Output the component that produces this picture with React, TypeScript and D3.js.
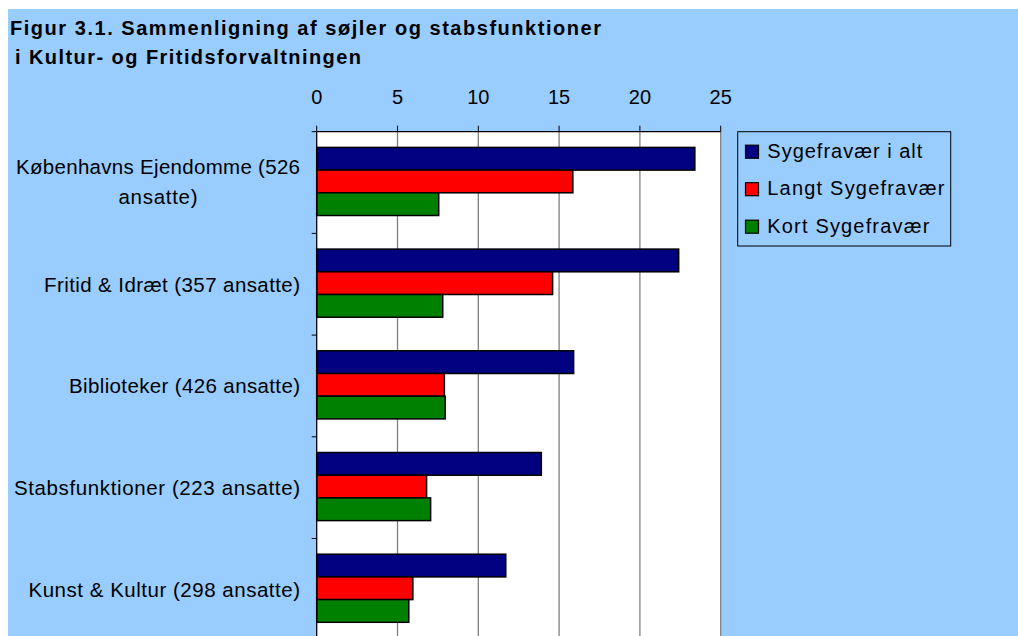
import React from 'react';
import * as d3 from 'd3';

const categories = [
  'Københavns Ejendomme (526 ansatte)',
  'Fritid & Idræt (357 ansatte)',
  'Biblioteker (426 ansatte)',
  'Stabsfunktioner (223 ansatte)',
  'Kunst & Kultur (298 ansatte)',
];
// label lines as drawn (first label wraps), with the width each line takes in the picture
const categoryLines = [
  ['Københavns Ejendomme (526', 'ansatte)'],
  ['Fritid & Idræt (357 ansatte)'],
  ['Biblioteker (426 ansatte)'],
  ['Stabsfunktioner (223 ansatte)'],
  ['Kunst & Kultur (298 ansatte)'],
];
const categoryLineWidths = [[284, 79], [256], [231], [286], [271.5]];
const seriesNames = ['Sygefravær i alt', 'Langt Sygefravær', 'Kort Sygefravær'];
const seriesNameWidths = [155, 177, 162];
const seriesColors = ['#000080', '#FF0000', '#008000'];
const sygefravaerIAlt = [23.4, 22.4, 15.9, 13.9, 11.7];
const langtSygefravaer = [15.85, 14.6, 7.9, 6.8, 5.95];
const kortSygefravaer = [7.55, 7.8, 7.95, 7.05, 5.7];
const xTicks = [0, 5, 10, 15, 20, 25];
const titleLines = ['Figur 3.1. Sammenligning af søjler og stabsfunktioner', 'i Kultur- og Fritidsforvaltningen'];
const titleWidths = [591, 346];

const W = 1018;
const H = 636;
const BG = '#99CCFF';
const FONT = '"Liberation Sans", Arial, sans-serif';

export default function App() {
  const series = [sygefravaerIAlt, langtSygefravaer, kortSygefravaer];

  // plot area
  const left = 316.7;
  const right = 720.7;
  const top = 131.7;
  const band = 101.7;

  const x = d3.scaleLinear().domain([0, 25]).range([left, right]);
  const y = d3.scaleBand<string>().domain(categories).range([top, top + band * categories.length]).padding(0);
  const groupOffset = 15.7;
  const barH = 22.7;
  const inner = d3.scaleBand<number>().domain([0, 1, 2]).range([0, barH * 3]).padding(0);

  const bottom = top + band * categories.length;

  return (
    <svg width={W} height={H} style={{ position: 'absolute', left: 0, top: 0 }} fontFamily={FONT}>
      <rect x={8} y={9} width={W - 8} height={H - 9} fill={BG} />

      {/* title */}
      {titleLines.map((t, i) => (
        <text key={i} x={i === 0 ? 10 : 15} y={34.5 + i * 29.4} fontSize={20} fontWeight="bold" fill="#000" textLength={titleWidths[i]}>
          {t}
        </text>
      ))}

      {/* plot background */}
      <rect x={left} y={top} width={right - left} height={bottom - top} fill="#fff" />

      {/* gridlines */}
      {xTicks.slice(1).map((t) => (
        <line key={t} x1={x(t)} x2={x(t)} y1={top} y2={bottom} stroke="#808080" strokeWidth={1.3} />
      ))}

      {/* x axis at top */}
      <line x1={left} x2={right} y1={top} y2={top} stroke="#000" strokeWidth={1.2} />
      {xTicks.map((t) => (
        <g key={t}>
          <line x1={x(t)} x2={x(t)} y1={top - 6} y2={top} stroke="#000" strokeWidth={1} />
          <text x={x(t)} y={104.3} textAnchor="middle" fontSize={20} fill="#000">
            {t}
          </text>
        </g>
      ))}

      {/* bars */}
      {categories.map((c, ci) => (
        <g key={c}>
          {series.map((s, si) => (
            <rect
              key={si}
              x={x(0)}
              y={(y(c) as number) + groupOffset + (inner(si) as number)}
              width={x(s[ci]) - x(0)}
              height={inner.bandwidth()}
              fill={seriesColors[si]}
              stroke="#000"
              strokeWidth={1.5}
            />
          ))}
        </g>
      ))}

      {/* y axis */}
      <line x1={left} x2={left} y1={top} y2={bottom} stroke="#000" strokeWidth={1.3} />
      {categories.map((c) => (
        <line key={c} x1={left - 5} x2={left} y1={y(c) as number} y2={y(c) as number} stroke="#000" strokeWidth={1} />
      ))}
      {categories.map((c, ci) => {
        const lines = categoryLines[ci];
        const cy = (y(c) as number) + y.bandwidth() / 2;
        const lh = 29.5;
        if (lines.length > 1) {
          return (
            <g key={c}>
              {lines.map((l, li) => (
                <text
                  key={li}
                  x={158}
                  y={cy - ((lines.length - 1) * lh) / 2 + li * lh + 6.5}
                  fontSize={20.5}
                  fill="#000"
                  textAnchor="middle"
                  textLength={categoryLineWidths[ci][li]}
                >
                  {l}
                </text>
              ))}
            </g>
          );
        }
        return (
          <text key={c} x={300} y={cy + 7.5} fontSize={20.5} fill="#000" textAnchor="end" textLength={categoryLineWidths[ci][0]}>
            {lines[0]}
          </text>
        );
      })}

      {/* legend */}
      <rect x={737.7} y={131.7} width={213} height={114.3} fill={BG} stroke="#000" strokeWidth={1} />
      {seriesNames.map((n, i) => {
        const cy = 151.7 + i * 37.5;
        return (
          <g key={n}>
            <rect x={745.5} y={cy - 6.5} width={13} height={13} fill={seriesColors[i]} stroke="#000" strokeWidth={1.2} />
            <text x={767.3} y={cy + 6} fontSize={20} fill="#000" textLength={seriesNameWidths[i]}>
              {n}
            </text>
          </g>
        );
      })}
    </svg>
  );
}
